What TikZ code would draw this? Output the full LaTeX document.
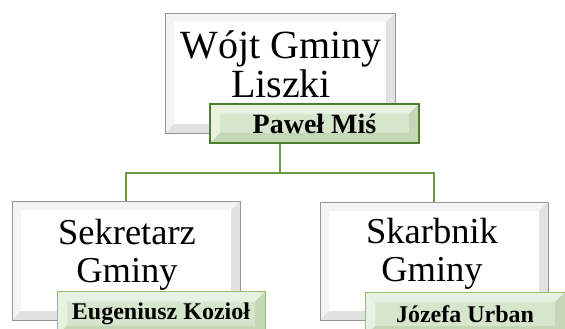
\documentclass[tikz,border=0pt]{standalone}
\usepackage{fontspec}
\setmainfont{Liberation Serif}
\definecolor{bevelgray}{RGB}{226,226,226}
\definecolor{bevellight}{RGB}{244,244,244}
\definecolor{boxedge}{RGB}{150,150,150}
\definecolor{namefill}{RGB}{214,230,204}
\definecolor{namebevel}{RGB}{232,242,226}
\definecolor{namebevdark}{RGB}{196,216,184}
\definecolor{darkedge}{RGB}{80,125,45}
\definecolor{lightedge}{RGB}{150,190,110}
\definecolor{linkgreen}{RGB}{110,155,70}
\tikzset{
  bevelpic/.style n args={3}{path picture={
    \fill[#2] (path picture bounding box.north west) -- (path picture bounding box.north east)
      -- ([shift={(-#1,-#1)}]path picture bounding box.north east) -- ([shift={(#1,-#1)}]path picture bounding box.north west) -- cycle;
    \fill[#2] (path picture bounding box.north west) -- (path picture bounding box.south west)
      -- ([shift={(#1,#1)}]path picture bounding box.south west) -- ([shift={(#1,-#1)}]path picture bounding box.north west) -- cycle;
    \fill[#3] (path picture bounding box.south west) -- (path picture bounding box.south east)
      -- ([shift={(-#1,#1)}]path picture bounding box.south east) -- ([shift={(#1,#1)}]path picture bounding box.south west) -- cycle;
    \fill[#3] (path picture bounding box.north east) -- (path picture bounding box.south east)
      -- ([shift={(-#1,#1)}]path picture bounding box.south east) -- ([shift={(-#1,-#1)}]path picture bounding box.north east) -- cycle;
  }},
  rolebox/.style={rectangle, draw=boxedge, line width=0.8pt, fill=white, inner sep=0pt,
    bevelpic={9pt}{bevellight}{bevelgray}},
  namebox/.style={rectangle, fill=namefill, inner sep=0pt, minimum height=40pt,
    font=\fontsize{24}{26}\selectfont\bfseries, bevelpic={10pt}{namebevel}{namebevdark}},
  bigtext/.style={inner sep=0pt, font=\fontsize{40}{40}\selectfont},
  midtext/.style={inner sep=0pt, font=\fontsize{36.5}{38}\selectfont},
  link/.style={draw=linkgreen, line width=1.8pt}
}
\begin{document}
\begin{tikzpicture}[x=1pt,y=-1pt]
\useasboundingbox (0,0) rectangle (565,329);
% top
\node[rolebox, minimum width=230pt, minimum height=120pt] (wojt) at (280,73) {};
\node[bigtext, anchor=base] (wojt1) at (281,59) {Wójt Gminy};
\node[bigtext, anchor=base] (wojt2) at (281,97) {Liszki};
\node[namebox, draw=darkedge, line width=1.8pt, minimum width=209pt, minimum height=39pt,
  font=\fontsize{28}{30}\selectfont\bfseries] (pawel) at (314.5,123.5) {Paweł Miś};
% left
\node[rolebox, minimum width=228pt, minimum height=119pt] (sekr) at (126,260.5) {};
\node[midtext, anchor=base] (sekr1) at (127,244) {Sekretarz};
\node[midtext, anchor=base] (sekr2) at (127,282) {Gminy};
\node[namebox, draw=lightedge, line width=1pt, minimum width=208pt, minimum height=44pt] (euge) at (161,313.5) {Eugeniusz Kozioł};
% right
\node[rolebox, minimum width=228pt, minimum height=118pt] (skarb) at (434,261) {};
\node[midtext, anchor=base] (skarb1) at (432,243) {Skarbnik};
\node[midtext, anchor=base] (skarb2) at (432,281) {Gminy};
\node[namebox, draw=lightedge, line width=1pt, minimum width=200pt, minimum height=44pt] (jozefa) at (465,314) {Józefa Urban};
% connectors
\coordinate (jn) at (280,173);
\coordinate (jr) at (434,173);
\draw[link] (wojt.south |- pawel.south) -- (jn);
\draw[link] (sekr.north) |- (jn);
\draw[link] (jn) -- (jr) -- (skarb.north);
\end{tikzpicture}
\end{document}
